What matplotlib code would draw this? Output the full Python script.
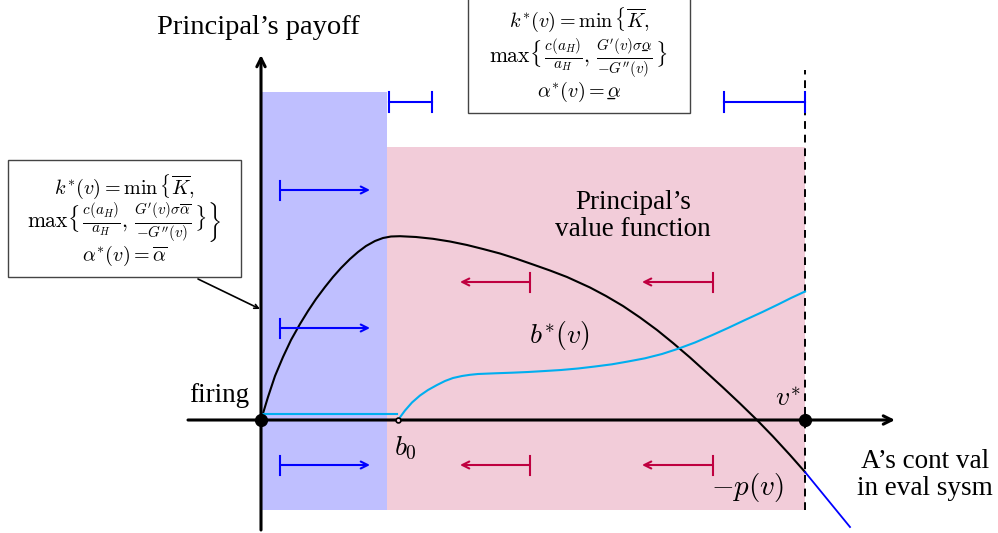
import matplotlib
matplotlib.use("Agg")
import matplotlib.pyplot as plt
from matplotlib.patches import Rectangle

plt.rcParams['font.family'] = ['Liberation Serif', 'DejaVu Serif']
plt.rcParams['mathtext.fontset'] = 'cm'

# principal's value function (v, payoff)
value_v = [0.00, 0.07, 0.14, 0.22, 0.30, 0.39, 0.47, 0.55, 0.64, 0.72, 0.80, 0.89,
           0.97, 1.05, 1.14, 1.22, 1.30, 1.39, 1.55, 1.72, 1.89, 2.06, 2.22, 2.39,
           2.55, 2.72, 2.89, 3.06, 3.29, 3.45, 3.62, 3.79, 3.96, 4.12, 4.29, 4.45,
           4.62, 4.79, 4.96, 5.12, 5.29, 5.44]
value_p = [0.00, 0.23, 0.44, 0.63, 0.80, 0.96, 1.09, 1.21, 1.33, 1.43, 1.52, 1.61,
           1.68, 1.74, 1.79, 1.82, 1.835, 1.838, 1.830, 1.812, 1.785, 1.750, 1.71, 1.665,
           1.614, 1.555, 1.495, 1.43, 1.325, 1.24, 1.14, 1.025, 0.90, 0.77, 0.625, 0.48,
           0.325, 0.165, 0.0, -0.165, -0.35, -0.52]

# -p(v) beyond v*
payout_v = [5.44, 5.89]
payout_p = [-0.52, -1.07]

# bonus b*(v): flat below b0, then rising
bonus_flat_v = [0.00, 1.36]
bonus_flat_p = [0.06, 0.06]
bonus_v = [1.37, 1.44, 1.51, 1.59, 1.67, 1.76, 1.84, 1.92, 2.01, 2.09, 2.17, 2.34,
           2.51, 2.67, 2.84, 3.00, 3.17, 3.34, 3.51, 3.67, 3.84, 4.01, 4.17, 4.34,
           4.51, 4.67, 4.84, 5.01, 5.17, 5.30, 5.44]
bonus_p = [0.00, 0.095, 0.175, 0.245, 0.30, 0.35, 0.39, 0.42, 0.44, 0.452, 0.46, 0.467,
           0.473, 0.48, 0.49, 0.50, 0.515, 0.535, 0.557, 0.585, 0.617, 0.66, 0.712, 0.775,
           0.848, 0.92, 1.0, 1.078, 1.155, 1.22, 1.285]

V_FIRE = 1.26     # end of high-effort region
B0 = 1.37
V_STAR = 5.44

BLUE = '#0000ff'
CRIMSON = '#bf0040'
CYAN = '#00aeef'

fig = plt.figure(figsize=(9.98, 5.33), dpi=100)
ax = fig.add_axes([0, 0, 1, 1])
ax.set_xlim(-2.61, 7.37)
ax.set_ylim(-1.13, 4.20)
ax.axis('off')

# regions
ax.add_patch(Rectangle((0, -0.90), V_FIRE, 3.28 + 0.90, facecolor='#bfbfff', edgecolor='none', zorder=0))
ax.add_patch(Rectangle((V_FIRE, -0.90), V_STAR - V_FIRE, 2.73 + 0.90, facecolor='#f2ccd9', edgecolor='none', zorder=0))

# dashed boundary at v*
ax.plot([V_STAR, V_STAR], [-0.90, 3.50], color='black', lw=1.4, ls=(0, (4, 3)), zorder=2)

# curves
ax.plot(value_v, value_p, color='black', lw=1.5, zorder=3)
ax.plot(payout_v, payout_p, color=BLUE, lw=1.3, zorder=3)
ax.plot(bonus_flat_v, bonus_flat_p, color=CYAN, lw=1.5, zorder=3)
ax.plot(bonus_v, bonus_p, color=CYAN, lw=1.5, zorder=3)

# axes
arrow_kw = dict(arrowstyle='->,head_length=0.6,head_width=0.3', color='black', lw=2.2,
                shrinkA=0, shrinkB=0)
ax.annotate('', xy=(6.34, 0), xytext=(-0.73, 0), arrowprops=arrow_kw, zorder=4)
ax.annotate('', xy=(0, 3.65), xytext=(0, -1.10), arrowprops=arrow_kw, zorder=4)

ax.plot([0, V_STAR], [0, 0], 'o', color='black', ms=8.5, zorder=5)
ax.plot([B0], [0], 'o', color='black', mfc='#f2ccd9', ms=3.5, mew=1.2, zorder=5)

# drift arrows: a bar at the start, open head at the end
BAR = 0.095


def bar_arrow(x0, x1, y, color, head=True):
    ax.plot([x0, x0], [y - BAR, y + BAR], color=color, lw=1.5, zorder=4)
    if head:
        ax.annotate('', xy=(x1, y), xytext=(x0, y),
                    arrowprops=dict(arrowstyle='->,head_length=0.5,head_width=0.25',
                                    color=color, lw=1.5, shrinkA=0, shrinkB=0), zorder=4)
    else:
        ax.plot([x0, x1], [y, y], color=color, lw=1.5, zorder=4)
        ax.plot([x1, x1], [y - BAR, y + BAR], color=color, lw=1.5, zorder=4)


for y in [2.30, 0.92, -0.45]:
    bar_arrow(0.19, 1.09, y, BLUE)
for y in [1.38, -0.45]:
    bar_arrow(2.69, 1.99, y, CRIMSON)
    bar_arrow(4.52, 3.81, y, CRIMSON)
bar_arrow(1.28, 1.71, 3.18, BLUE, head=False)
bar_arrow(4.63, 5.44, 3.18, BLUE, head=False)

# labels
ax.text(-0.03, 3.92, "Principal’s payoff", fontsize=20.5, ha='center', va='center')
ax.text(-0.42, 0.25, "firing", fontsize=19.5, ha='center', va='center')
ax.text(6.64, -0.55, "A’s cont val\nin eval sysm", fontsize=19.5, ha='center', va='center',
        linespacing=1.12)
ax.text(3.72, 2.04, "Principal’s\nvalue function", fontsize=19.5, ha='center', va='center',
        linespacing=1.12)
ax.text(1.44, -0.28, r"$b_0$", fontsize=20, ha='center', va='center')
ax.text(5.27, 0.20, r"$v^{\!*}$", fontsize=20, ha='center', va='center')
ax.text(4.87, -0.67, r"$-p(v)$", fontsize=21, ha='center', va='center')
ax.text(2.98, 0.84, r"$b^{\!*}\!(v)$", fontsize=20, ha='center', va='center')

# underlined alpha (lower bound of monitoring intensity)
UA = r"\alpha\!\!\!\!\!\_\,"

# policy boxes
ax.add_patch(Rectangle((-2.53, 1.43), 2.33, 1.17, facecolor='white', edgecolor='#444444', lw=1.0, zorder=6))
box_left = [r"$k^{\!*}\!(v) = \min\,\left\{\overline{K},\right.$",
            r"$\left.\max\{\,\frac{c(a_H)}{a_H},\,\frac{G'(v)\sigma\overline{\alpha}}{-G''(v)}\,\}\right\}$",
            r"$\alpha^{\!*}\!(v) = \overline{\alpha}$"]
for txt, y, fs in zip(box_left, [2.33, 1.98, 1.64], [14.5, 15.5, 14.5]):
    ax.text(-1.365, y, txt, fontsize=fs, ha='center', va='center', zorder=7)

ax.add_patch(Rectangle((2.07, 3.07), 2.22, 1.20, facecolor='white', edgecolor='#444444', lw=1.0, zorder=6))
box_top = [r"$k^{\!*}\!(v) = \min\,\left\{\overline{K},\right.$",
           r"$\max\{\,\frac{c(a_H)}{a_H},\,\frac{G'(v)\sigma" + UA + r"}{-G''(v)}\,\}$",
           r"$\alpha^{\!*}\!(v) = " + UA + r"$"]
for txt, y, fs in zip(box_top, [4.00, 3.62, 3.28], [14.5, 15.5, 14.5]):
    ax.text(3.18, y, txt, fontsize=fs, ha='center', va='center', zorder=7)

# pointer from the left box to the blue region
ax.annotate('', xy=(-0.01, 1.11), xytext=(-0.63, 1.41),
            arrowprops=dict(arrowstyle='->,head_length=0.3,head_width=0.15', color='black',
                            lw=1.2, shrinkA=0, shrinkB=0), zorder=6)

fig.savefig('out.png', dpi=100)
